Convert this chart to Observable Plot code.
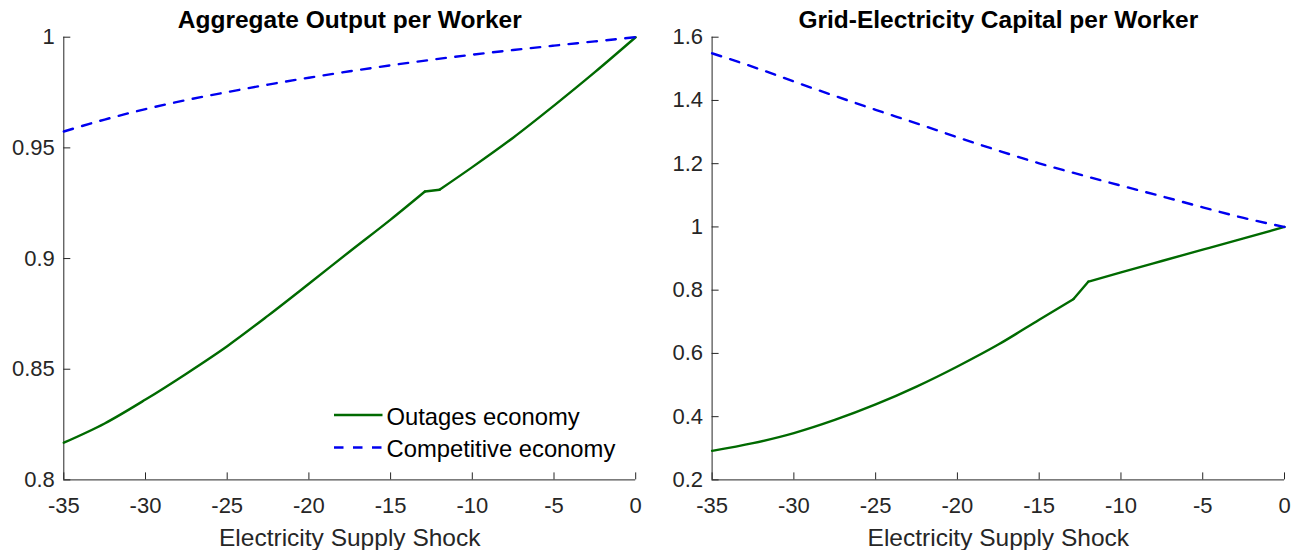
<!DOCTYPE html>
<html>
<head>
<meta charset="utf-8">
<script src="https://cdn.jsdelivr.net/npm/d3@7"></script>
<script src="https://cdn.jsdelivr.net/npm/@observablehq/plot@0.6"></script>
<style>
  body { margin: 0; background: #fff; }
  #wrap { position: relative; width: 1300px; height: 550px; overflow: hidden; font-family: "Liberation Sans", Arial, Helvetica, sans-serif; }
  #wrap > .panel { position: absolute; top: 0; }
  #legend { position: absolute; left: 0; top: 0; pointer-events: none; }
</style>
</head>
<body>
<div id="wrap"></div>
<script>
// ---------------- data ----------------
const xTicks = [-35, -30, -25, -20, -15, -10, -5, 0];
const xTickLabels = ["-35", "-30", "-25", "-20", "-15", "-10", "-5", "0"];
const xLabel = "Electricity Supply Shock";

const titles = ["Aggregate Output per Worker", "Grid-Electricity Capital per Worker"];
const seriesNames = ["Outages economy", "Competitive economy"];

// shock grid for the competitive economy (both panels)
const competitiveShock = [-35, -32.5, -30, -27.5, -25, -22.5, -20, -17.5, -15, -12.5, -10, -7.5, -5, -2.5, 0];
// shock grid for the outages economy (both panels), with the kink between -12.9 and -12
const outagesShock = [-35, -32.5, -30, -27.5, -25, -22.5, -20, -17.5, -15, -12.9, -12, -10, -7.5, -5, -2.5, 0];
const kinkStart = -12.9, kinkEnd = -12;

// Panel 1: Aggregate Output per Worker
const outputYTicks = [0.8, 0.85, 0.9, 0.95, 1];
const outputYTickLabels = ["0.8", "0.85", "0.9", "0.95", "1"];
const outputOutages = [0.8168, 0.8255, 0.8363, 0.8480, 0.8604, 0.8742, 0.8886, 0.9032, 0.9176, 0.9303, 0.9311, 0.9413, 0.9546, 0.9691, 0.9842, 1.0];
const outputCompetitive = [0.9574, 0.9628, 0.9675, 0.9716, 0.9752, 0.9786, 0.9817, 0.9846, 0.9873, 0.9898, 0.9921, 0.9942, 0.9962, 0.9981, 1.0];

// Panel 2: Grid-Electricity Capital per Worker
const capitalYTicks = [0.2, 0.4, 0.6, 0.8, 1, 1.2, 1.4, 1.6];
const capitalYTickLabels = ["0.2", "0.4", "0.6", "0.8", "1", "1.2", "1.4", "1.6"];
const capitalOutages = [0.2919, 0.3162, 0.3479, 0.3895, 0.4385, 0.4950, 0.5587, 0.6280, 0.7065, 0.7720, 0.8268, 0.8563, 0.8923, 0.9280, 0.9638, 1.0];
const capitalCompetitive = [1.549, 1.5063, 1.4598, 1.4145, 1.3702, 1.3278, 1.2835, 1.2414, 1.2012, 1.1654, 1.1306, 1.0968, 1.062, 1.0284, 1.0];

// ---------------- styling / layout ----------------
const GREEN = "#006a00";
const BLUE = "#0000f0";
const AXIS = "#262626";
const DASH = "9.5,9.5";
const LW = 2.4;
const W = 650, H = 550, MT = 36.7, MB = 70.6;
const FONT = '"Liberation Sans", Arial, Helvetica, sans-serif';

function toRows(xs, ys) { return xs.map((x, i) => ({x, y: ys[i]})); }

function panel({title, yTicks, yTickLabels, outages, competitive, ml, mr}) {
  const plotW = W - ml - mr;
  const plotH = H - MT - MB;
  const yDomain = [yTicks[0], yTicks[yTicks.length - 1]];
  const xDomain = [xTicks[0], xTicks[xTicks.length - 1]];
  const out = toRows(outagesShock, outages);
  const outBefore = out.filter(d => d.x <= kinkStart);
  const outKink = out.filter(d => d.x >= kinkStart && d.x <= kinkEnd);
  const outAfter = out.filter(d => d.x >= kinkEnd);
  return Plot.plot({
    width: W, height: H,
    marginTop: MT, marginBottom: MB, marginLeft: ml, marginRight: mr,
    x: {domain: xDomain},
    y: {domain: yDomain},
    style: {fontFamily: FONT, fontSize: "22px", color: AXIS, background: "transparent", overflow: "visible"},
    marks: [
      Plot.ruleX([xDomain[0]], {stroke: AXIS, strokeWidth: 1}),
      Plot.ruleY([yDomain[0]], {stroke: AXIS, strokeWidth: 1}),
      Plot.tickY(yTicks, {y: d => d, stroke: AXIS, strokeWidth: 1, insetRight: plotW - 7}),
      Plot.tickX(xTicks, {x: d => d, stroke: AXIS, strokeWidth: 1, insetTop: plotH - 7}),
      Plot.axisY({ticks: yTicks, tickSize: 0, tickPadding: 9, label: null,
                  tickFormat: d => yTickLabels[yTicks.indexOf(d)], fontSize: 22, fill: AXIS}),
      Plot.axisX({ticks: xTicks, tickSize: 0, tickPadding: 17, label: null,
                  tickFormat: d => xTickLabels[xTicks.indexOf(d)], fontSize: 22, fill: AXIS}),
      Plot.line(outBefore, {x: "x", y: "y", stroke: GREEN, strokeWidth: LW, curve: "monotone-x", strokeLinejoin: "round"}),
      Plot.line(outKink, {x: "x", y: "y", stroke: GREEN, strokeWidth: LW, strokeLinejoin: "round"}),
      Plot.line(outAfter, {x: "x", y: "y", stroke: GREEN, strokeWidth: LW, curve: "monotone-x", strokeLinejoin: "round"}),
      Plot.line(toRows(competitiveShock, competitive), {x: "x", y: "y", stroke: BLUE, strokeWidth: LW, strokeDasharray: DASH, curve: "monotone-x"}),
      Plot.text([title], {text: d => d, frameAnchor: "top", dy: -17.5, lineAnchor: "middle", fontSize: 24.5, fontWeight: "bold", fill: "#000"}),
      Plot.text([xLabel], {text: d => d, frameAnchor: "bottom", dy: 58.5, lineAnchor: "middle", fontSize: 24.5, fill: AXIS})
    ]
  });
}

const wrap = document.getElementById("wrap");

const left = panel({title: titles[0], yTicks: outputYTicks, yTickLabels: outputYTickLabels,
                    outages: outputOutages, competitive: outputCompetitive, ml: 63.3, mr: 14.8});
left.classList.add("panel");
left.style.left = "0px";
wrap.appendChild(left);

const right = panel({title: titles[1], yTicks: capitalYTicks, yTickLabels: capitalYTickLabels,
                     outages: capitalOutages, competitive: capitalCompetitive, ml: 61.6, mr: 16});
right.classList.add("panel");
right.style.left = "650px";
wrap.appendChild(right);

// ---------------- legend (inside left panel, lower right) ----------------
const NS = "http://www.w3.org/2000/svg";
const lg = document.createElementNS(NS, "svg");
lg.setAttribute("id", "legend");
lg.setAttribute("width", 650);
lg.setAttribute("height", 550);
const legendItems = [
  {name: seriesNames[0], stroke: GREEN, dash: null, ly: 415, ty: 425},
  {name: seriesNames[1], stroke: BLUE, dash: DASH, ly: 447.5, ty: 456.7}
];
for (const it of legendItems) {
  const ln = document.createElementNS(NS, "line");
  ln.setAttribute("x1", 334); ln.setAttribute("x2", 382.5);
  ln.setAttribute("y1", it.ly); ln.setAttribute("y2", it.ly);
  ln.setAttribute("stroke", it.stroke); ln.setAttribute("stroke-width", LW);
  if (it.dash) ln.setAttribute("stroke-dasharray", it.dash);
  lg.appendChild(ln);
  const tx = document.createElementNS(NS, "text");
  tx.setAttribute("x", 386.5); tx.setAttribute("y", it.ty);
  tx.setAttribute("font-size", "23.8px");
  tx.setAttribute("font-family", FONT);
  tx.setAttribute("fill", "#000");
  tx.textContent = it.name;
  lg.appendChild(tx);
}
wrap.appendChild(lg);
</script>
</body>
</html>
